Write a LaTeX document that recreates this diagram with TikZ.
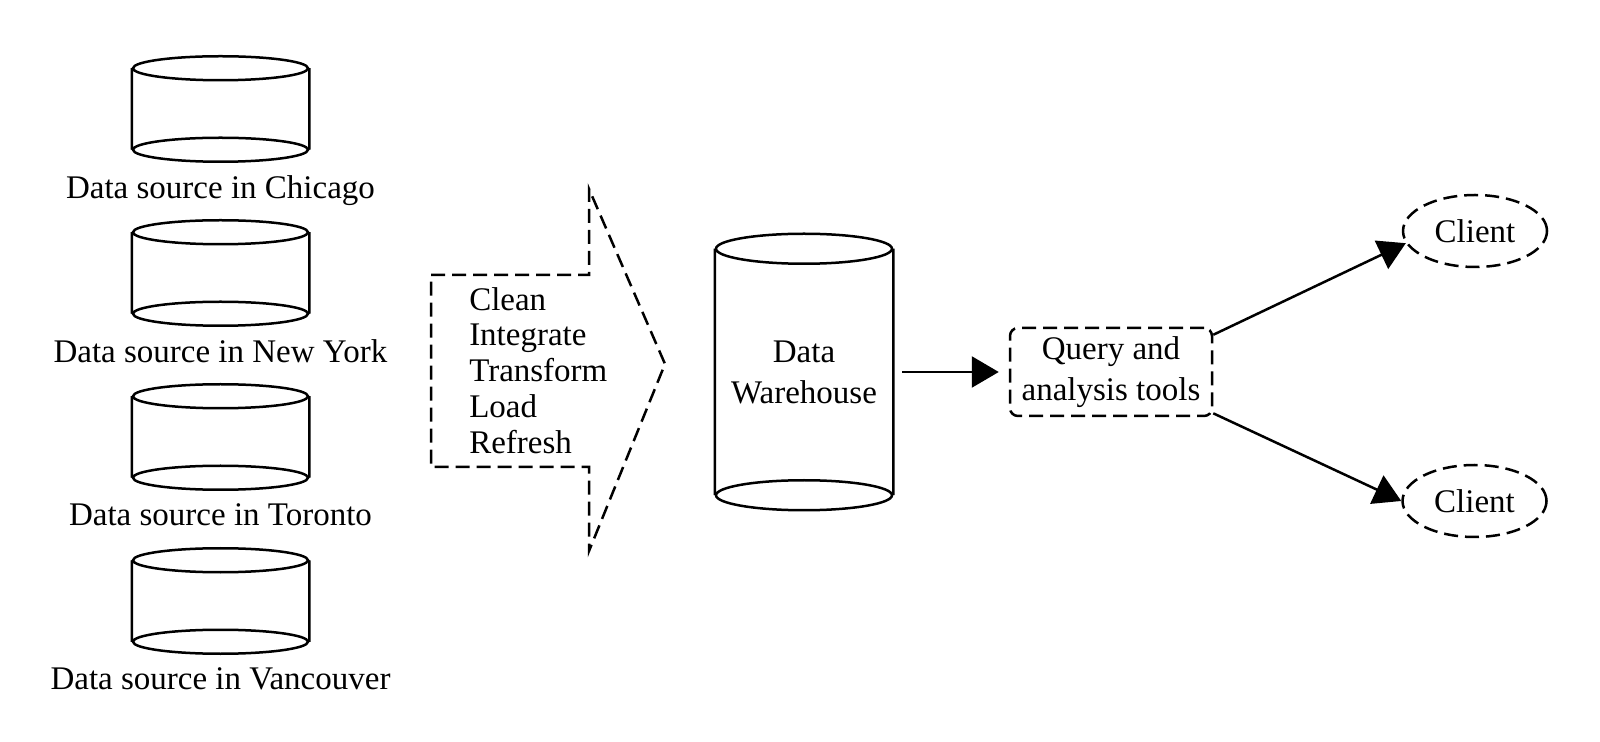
\documentclass[tikz,border=0pt]{standalone}
\usepackage{fontspec}
\setmainfont{Liberation Serif}
\usetikzlibrary{shapes,arrows.meta,positioning}

\begin{document}
\begin{tikzpicture}[x=0.5pt, y=-0.5pt, node distance=82pt,
  font=\fontsize{16.5}{20.5}\selectfont, line width=1.25pt,
  dashline/.style={dash pattern=on 7pt off 3.5pt},
  source/.style={minimum width=87.5pt, minimum height=39.5pt, inner sep=0pt},
  srclabel/.style={inner sep=0pt},
  store/.style={minimum width=88pt, minimum height=122pt, align=center},
  tool/.style={draw, dashline, rounded corners=4pt, minimum width=101pt, minimum height=44pt, align=center},
  client/.style={ellipse, draw, dashline, minimum width=72pt, minimum height=36pt},
  arr/.style={-{Triangle[length=13.5pt,width=15.5pt]}}]
\useasboundingbox (0,0) rectangle (1600,742);

% data sources
\node[source] (src1) at (220.5,109) {};
\node[source, below of=src1] (src2) {};
\node[source, below of=src2] (src3) {};
\node[source, below of=src3] (src4) {};
\node[srclabel, below=12.2pt of src1] (lab1) {Data source in Chicago};
\node[srclabel, below=12.2pt of src2] (lab2) {Data source in New York};
\node[srclabel, below=12.2pt of src3] (lab3) {Data source in Toronto};
\node[srclabel, below=12.2pt of src4] (lab4) {Data source in Vancouver};

% ETL arrow
\draw[dashline] (431,275) -- (589,275) -- (589,189) -- (665,364) -- (589,551) -- (589,467) -- (431,467) -- cycle;
\node[anchor=west, inner sep=0pt, align=left, font=\fontsize{16.5}{17.9}\selectfont] (etl) at (468,370.5) {Clean\\Integrate\\Transform\\Load\\Refresh};

% warehouse and tools
\node[store] (dw) at (804,372) {Data\\Warehouse};
\node[tool] (qa) at (1111,372) {Query and\\analysis tools};
\node[client] (c1) at (1475,231) {Client};
\node[client] (c2) at (1474.5,501) {Client};

% cylinder outlines
\foreach \n/\rx/\ry in {src1/43.75/6, src2/43.75/6, src3/43.75/6, src4/43.75/6, dw/44/7.5}
  \draw (\n.north west) -- (\n.south west) (\n.north east) -- (\n.south east)
        (\n.north) ellipse [x radius=\rx pt, y radius=\ry pt]
        (\n.south) ellipse [x radius=\rx pt, y radius=\ry pt];

\draw[arr, shorten <=4.5pt, shorten >=5pt] (dw.east) -- (qa);
\draw[arr] (qa.20) -- (c1.190);
\draw[arr] (qa.-22) -- (c2.west);
\end{tikzpicture}
\end{document}
